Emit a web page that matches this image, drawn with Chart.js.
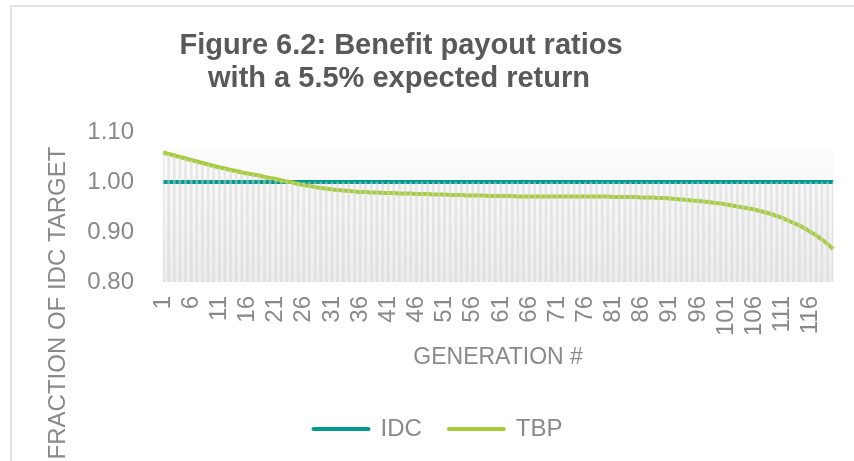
<!DOCTYPE html>
<html><head><meta charset="utf-8">
<script src="https://cdn.jsdelivr.net/npm/chart.js@4.4.1/dist/chart.umd.min.js"></script>
<style>html,body{margin:0;padding:0;background:#fff;} canvas{display:block;}</style>
</head><body>
<canvas id="c" width="854" height="461"></canvas>
<script>
const chartTitle = ['Figure 6.2: Benefit payout ratios', 'with a 5.5% expected return'];
const xAxisTitle = 'GENERATION #';
const yAxisTitle = 'FRACTION OF IDC TARGET';
const seriesNames = ['IDC', 'TBP'];
const generations = Array.from({length: 120}, (_, i) => String(i + 1));
const yTicks = [0.80, 0.90, 1.00, 1.10];

const idcValues = [
  1.00,1.00,1.00,1.00,1.00,1.00,1.00,1.00,1.00,1.00,1.00,1.00,1.00,1.00,1.00,1.00,1.00,1.00,1.00,1.00,
  1.00,1.00,1.00,1.00,1.00,1.00,1.00,1.00,1.00,1.00,1.00,1.00,1.00,1.00,1.00,1.00,1.00,1.00,1.00,1.00,
  1.00,1.00,1.00,1.00,1.00,1.00,1.00,1.00,1.00,1.00,1.00,1.00,1.00,1.00,1.00,1.00,1.00,1.00,1.00,1.00,
  1.00,1.00,1.00,1.00,1.00,1.00,1.00,1.00,1.00,1.00,1.00,1.00,1.00,1.00,1.00,1.00,1.00,1.00,1.00,1.00,
  1.00,1.00,1.00,1.00,1.00,1.00,1.00,1.00,1.00,1.00,1.00,1.00,1.00,1.00,1.00,1.00,1.00,1.00,1.00,1.00,
  1.00,1.00,1.00,1.00,1.00,1.00,1.00,1.00,1.00,1.00,1.00,1.00,1.00,1.00,1.00,1.00,1.00,1.00,1.00,1.00
];

const tbpValues = [
  1.059,1.056,1.053,1.050,1.047,1.044,1.041,1.038,1.035,1.032,
  1.029,1.027,1.024,1.022,1.019,1.017,1.015,1.013,1.010,1.008,
  1.006,1.003,1.001,0.999,0.996,0.994,0.992,0.990,0.988,0.987,
  0.985,0.984,0.983,0.982,0.981,0.980,0.980,0.979,0.979,0.978,
  0.978,0.978,0.977,0.977,0.977,0.976,0.976,0.976,0.975,0.975,
  0.975,0.974,0.974,0.974,0.973,0.973,0.973,0.973,0.972,0.972,
  0.972,0.972,0.972,0.971,0.971,0.971,0.971,0.971,0.971,0.971,
  0.971,0.971,0.971,0.971,0.971,0.971,0.971,0.971,0.971,0.971,
  0.970,0.970,0.970,0.970,0.970,0.969,0.969,0.969,0.968,0.968,
  0.967,0.966,0.965,0.964,0.963,0.962,0.961,0.960,0.958,0.957,
  0.955,0.953,0.951,0.949,0.947,0.945,0.942,0.939,0.936,0.932,
  0.928,0.923,0.918,0.913,0.907,0.900,0.893,0.885,0.876,0.866
];

const seriesColors = ['#009a8e', '#a5cd39'];
const textGray = '#898989';
const titleGray = '#595959';
const FONT = "'Liberation Sans', Arial, sans-serif";

// drop lines from the higher of the two series down to the axis minimum
const dropLines = idcValues.map((v, i) => [yTicks[0], Math.max(v, tbpValues[i])]);

const framePlugin = {
  id: 'frame',
  beforeDraw(chart) {
    const c = chart.ctx;
    c.save();
    c.fillStyle = '#ffffff';
    c.fillRect(0, 0, chart.width, chart.height);
    c.strokeStyle = '#e4e4e4';
    c.lineWidth = 2;
    c.strokeRect(11, 6, chart.width + 20, chart.height + 20);
    c.restore();
  },
  beforeDatasetsDraw(chart) {
    const c = chart.ctx, a = chart.chartArea, y = chart.scales.y;
    const top = y.getPixelForValue(1.067);
    const g = c.createLinearGradient(0, top, 0, a.bottom);
    g.addColorStop(0, '#fcfcfc');
    g.addColorStop(1, '#ededed');
    c.save();
    c.fillStyle = g;
    c.fillRect(a.left, top, a.right - a.left, a.bottom - top);
    c.restore();
  },
  afterDraw(chart) {
    const c = chart.ctx;
    c.save();
    c.fillStyle = titleGray;
    c.font = "bold 29px " + FONT;
    c.textAlign = 'center';
    c.textBaseline = 'alphabetic';
    c.fillText(chartTitle[0], 401, 54);
    c.fillText(chartTitle[1], 399, 87);
    c.translate(58, 303);
    c.rotate(-Math.PI / 2);
    c.fillStyle = textGray;
    c.font = "24px " + FONT;
    c.textBaseline = 'middle';
    c.fillText(yAxisTitle, 0, 0);
    c.restore();
  }
};

new Chart(document.getElementById('c'), {
  type: 'line',
  data: {
    labels: generations,
    datasets: [
      {type: 'bar', label: 'drop', data: dropLines, backgroundColor: 'rgba(212,212,212,0.5)',
       borderWidth: 0, barThickness: 2, order: 0},
      {label: seriesNames[0], data: idcValues, borderColor: seriesColors[0], backgroundColor: seriesColors[0],
       borderWidth: 4, pointRadius: 0, tension: 0, order: 2},
      {label: seriesNames[1], data: tbpValues, borderColor: seriesColors[1], backgroundColor: seriesColors[1],
       borderWidth: 4, pointRadius: 0, cubicInterpolationMode: 'monotone', order: 1}
    ]
  },
  options: {
    responsive: false,
    animation: false,
    devicePixelRatio: 1,
    layout: {padding: {left: 39, right: 17, top: 132, bottom: 10}},
    plugins: {
      title: {display: false},
      tooltip: {enabled: false},
      legend: {
        position: 'bottom',
        labels: {
          usePointStyle: true,
          pointStyleWidth: 55,
          padding: 27,
          color: textGray,
          font: {size: 24, family: FONT},
          generateLabels: (chart) => [1, 2].map(di => {
            const ds = chart.data.datasets[di];
            return {text: ds.label, fillStyle: ds.borderColor, strokeStyle: ds.borderColor,
                    lineWidth: 4, lineCap: 'round', pointStyle: 'line', datasetIndex: di,
                    hidden: false, fontColor: textGray};
          })
        }
      }
    },
    scales: {
      x: {
        offset: false,
        grid: {display: false, drawTicks: false},
        border: {display: false},
        ticks: {
          autoSkip: false, minRotation: 90, maxRotation: 90, padding: 14,
          color: textGray, font: {size: 24, family: FONT},
          callback: (v, i) => (i % 5 === 0 ? generations[i] : null)
        },
        title: {display: true, text: xAxisTitle, color: textGray, font: {size: 23, family: FONT},
                padding: {top: 0, bottom: 19}},
        afterFit: (s) => { s.height = 108; }
      },
      y: {
        min: yTicks[0], max: yTicks[yTicks.length - 1],
        grid: {display: false, drawTicks: false},
        border: {display: false},
        afterBuildTicks: (s) => { s.ticks = yTicks.map(v => ({value: v})); },
        ticks: {padding: 29, color: textGray, font: {size: 24, family: FONT},
                callback: (v) => Number(v).toFixed(2)},
        afterFit: (s) => { s.width = 124; }
      }
    }
  },
  plugins: [framePlugin]
});
</script>
</body></html>
